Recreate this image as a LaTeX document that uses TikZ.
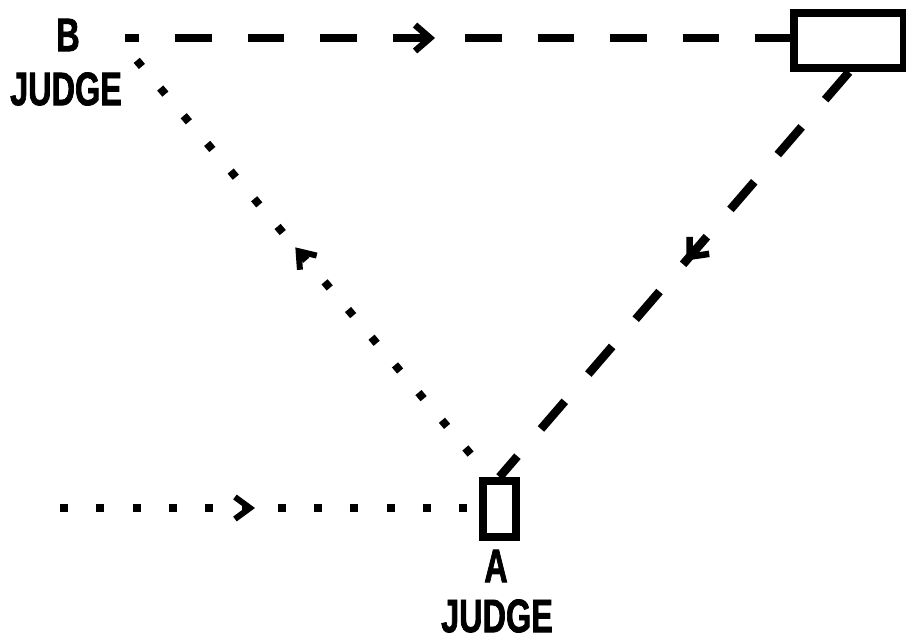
\documentclass[tikz,border=0pt]{standalone}
\usepackage{fontspec}
\newfontfamily\judgefont{Liberation Sans}[FakeStretch=0.69, BoldFeatures={FakeBold=1.5}]
\usetikzlibrary{arrows.meta,decorations.markings,calc}
\tikzset{
  bigbarb/.tip={Straight Barb[length=15pt,width=26pt,line width=6.5pt]},
  smallbarb/.tip={Straight Barb[length=15pt,width=22pt,line width=6pt]},
  judge/.style={font=\judgefont\bfseries\fontsize{47}{47}\selectfont, inner sep=0pt},
  seat/.style={draw, line width=8pt, inner sep=0pt, fill=white},
  dashline/.style={line width=8.5pt, dash pattern=on 36.5pt off 36pt},
  dotline/.style={line width=8pt, dash pattern=on 8pt off 28.3pt},
  midarrow/.style 2 args={postaction={decorate}, decoration={markings, mark=at position #1 with {\pgfsetdash{}{0pt}\arrow{#2}}}}
}
\begin{document}
\begin{tikzpicture}[x=1pt,y=-1pt]
\useasboundingbox (0,0) rectangle (906,640);
\clip (0,0) rectangle (906,640);
% seats
\node[seat, minimum width=110pt, minimum height=55pt] (R) at (849,40.5) {};
\node[seat, minimum width=33pt, minimum height=56pt] (S) at (499.5,509) {};
% labels
\node[judge] (bLabel) at (68,35) {B};
\node[judge] (bJudge) at (66,89) {JUDGE};
\node[judge] (aLabel) at (496,566) {A};
\node[judge] (aJudge) at (497,616) {JUDGE};
% free ends
\coordinate (t0) at (125,38);
\coordinate (h0) at (60,508);
\coordinate (dA) at (468,451);
\coordinate (dB) at (139,63);
% connectors
\draw[dashline, dash phase=22.5pt, midarrow={310pt}{bigbarb}] (t0) -- (t0 -| R.west);
\draw[dashline, midarrow={249pt}{bigbarb}] (R.south) -- (S.north);
\draw[dotline, midarrow={195pt}{smallbarb}] (h0) -- (h0 -| S.west);
\draw[dotline, midarrow={271pt}{smallbarb}] ($(dA)!-4pt!(dB)$) -- ($(dB)!-4pt!(dA)$);
\end{tikzpicture}
\end{document}
